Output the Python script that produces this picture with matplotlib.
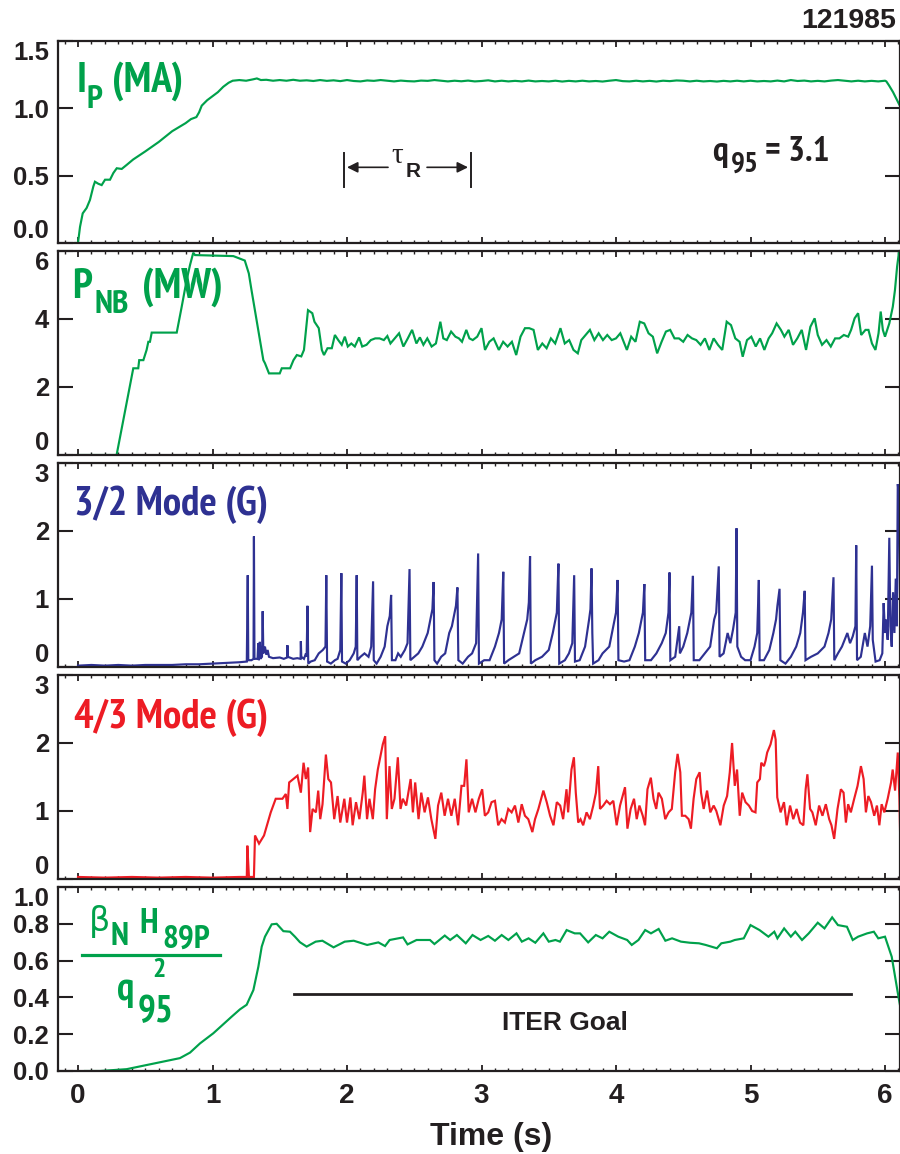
import matplotlib
matplotlib.use('Agg')
import matplotlib.pyplot as plt
from matplotlib import font_manager as fm
from matplotlib.ticker import MultipleLocator, FixedLocator
from matplotlib.lines import Line2D

# ---------------- data ----------------
shot = "121985"

ip_data = [(-0.02, 0.0), (0.0, 0.0), (0.015, 0.12), (0.035, 0.22), (0.064, 0.26), (0.089, 0.32),
           (0.114, 0.42), (0.126, 0.455), (0.151, 0.44), (0.176, 0.43), (0.201, 0.47), (0.238, 0.47),
           (0.263, 0.52), (0.288, 0.555), (0.325, 0.55), (0.362, 0.58), (0.41, 0.62), (0.5, 0.68),
           (0.6, 0.75), (0.7, 0.83), (0.8, 0.89), (0.84, 0.92), (0.88, 0.935), (0.9, 0.97),
           (0.92, 1.02), (0.96, 1.06), (1.0, 1.09), (1.04, 1.12), (1.08, 1.16), (1.12, 1.19),
           (1.15, 1.205), (1.2, 1.21), (1.25, 1.205), (1.3, 1.215), (1.33, 1.222), (1.36, 1.21),
           (1.4, 1.212), (1.45, 1.205), (1.5, 1.21), (1.55, 1.205), (1.6, 1.212), (1.65, 1.205),
           (1.7, 1.208), (1.75, 1.203), (1.8, 1.21), (1.85, 1.204), (1.9, 1.208), (1.95, 1.202),
           (2.0, 1.21), (2.05, 1.203), (2.1, 1.2), (2.15, 1.207), (2.2, 1.204), (2.25, 1.21),
           (2.3, 1.205), (2.35, 1.2), (2.4, 1.206), (2.45, 1.202), (2.5, 1.2), (2.55, 1.206),
           (2.6, 1.204), (2.65, 1.21), (2.7, 1.205), (2.75, 1.2), (2.8, 1.205), (2.85, 1.201),
           (2.9, 1.206), (2.95, 1.2), (3.0, 1.203), (3.05, 1.208), (3.1, 1.2), (3.15, 1.205),
           (3.2, 1.2), (3.25, 1.204), (3.3, 1.2), (3.35, 1.206), (3.4, 1.2), (3.45, 1.203),
           (3.5, 1.2), (3.55, 1.205), (3.6, 1.199), (3.65, 1.204), (3.7, 1.2), (3.75, 1.205),
           (3.8, 1.2), (3.85, 1.203), (3.9, 1.199), (3.95, 1.205), (4.0, 1.21), (4.05, 1.202),
           (4.1, 1.2), (4.15, 1.205), (4.2, 1.2), (4.25, 1.204), (4.3, 1.199), (4.35, 1.205),
           (4.4, 1.202), (4.45, 1.207), (4.5, 1.205), (4.55, 1.2), (4.6, 1.205), (4.65, 1.2),
           (4.7, 1.203), (4.75, 1.199), (4.8, 1.204), (4.85, 1.2), (4.9, 1.205), (4.95, 1.2),
           (5.0, 1.205), (5.05, 1.2), (5.1, 1.203), (5.15, 1.2), (5.2, 1.206), (5.25, 1.2),
           (5.3, 1.21), (5.35, 1.203), (5.4, 1.206), (5.45, 1.2), (5.5, 1.204), (5.55, 1.2),
           (5.6, 1.206), (5.65, 1.21), (5.7, 1.205), (5.75, 1.2), (5.8, 1.205), (5.85, 1.2),
           (5.9, 1.204), (5.95, 1.2), (6.0, 1.205), (6.01, 1.2), (6.03, 1.17), (6.06, 1.12),
           (6.09, 1.06), (6.11, 1.02), (6.13, 0.98)]

pnb_data = [(0.0, 0.0), (0.287, 0.0), (0.411, 2.55), (0.448, 2.55), (0.455, 2.79), (0.486, 2.79),
            (0.51, 3.09), (0.523, 3.33), (0.535, 3.33), (0.548, 3.6), (0.734, 3.6), (0.771, 4.36),
            (0.808, 5.15), (0.833, 5.59), (0.857, 5.95), (0.87, 5.88), (1.155, 5.85), (1.2, 5.78),
            (1.24, 5.72), (1.27, 5.34), (1.29, 4.85), (1.34, 3.68), (1.378, 2.79), (1.39, 2.7),
            (1.42, 2.4), (1.50, 2.4), (1.515, 2.55), (1.577, 2.55), (1.602, 2.79), (1.627, 2.94),
            (1.66, 2.9), (1.68, 3.09), (1.71, 4.26), (1.742, 4.17), (1.758, 3.92), (1.79, 3.73),
            (1.813, 3.09), (1.829, 2.94), (1.855, 3.14), (1.887, 3.14), (1.91, 3.53), (1.935, 3.38),
            (1.961, 3.24), (1.984, 3.48), (2.006, 3.19), (2.032, 3.28), (2.058, 3.19), (2.09, 3.46),
            (2.113, 3.19), (2.145, 3.24), (2.177, 3.38), (2.21, 3.43), (2.242, 3.43), (2.274, 3.38),
            (2.3, 3.5), (2.323, 3.28), (2.355, 3.43), (2.387, 3.58), (2.419, 3.19), (2.452, 3.43),
            (2.484, 3.68), (2.516, 3.28), (2.542, 3.46), (2.568, 3.24), (2.597, 3.43), (2.629, 3.19),
            (2.661, 3.28), (2.694, 3.92), (2.716, 3.43), (2.742, 3.38), (2.774, 3.63), (2.806, 3.48),
            (2.832, 3.43), (2.855, 3.33), (2.887, 3.68), (2.91, 3.43), (2.935, 3.38), (2.968, 3.48),
            (3.0, 3.73), (3.026, 3.09), (3.058, 3.33), (3.09, 3.43), (3.129, 3.09), (3.161, 3.33),
            (3.194, 3.19), (3.226, 3.33), (3.258, 2.94), (3.29, 3.48), (3.323, 3.73), (3.355, 3.73),
            (3.387, 3.68), (3.419, 3.09), (3.452, 3.28), (3.484, 3.14), (3.516, 3.43), (3.548, 3.28),
            (3.587, 3.73), (3.619, 3.28), (3.652, 3.38), (3.684, 3.09), (3.716, 2.99), (3.742, 3.38),
            (3.774, 3.53), (3.806, 3.68), (3.839, 3.38), (3.871, 3.58), (3.903, 3.38), (3.935, 3.53),
            (3.968, 3.38), (4.0, 3.43), (4.032, 3.58), (4.081, 3.09), (4.113, 3.48), (4.145, 3.33),
            (4.177, 3.92), (4.21, 3.87), (4.242, 3.58), (4.274, 3.48), (4.306, 2.99), (4.339, 3.33),
            (4.371, 3.63), (4.403, 3.68), (4.435, 3.43), (4.468, 3.43), (4.5, 3.33), (4.532, 3.53),
            (4.565, 3.43), (4.597, 3.38), (4.629, 3.24), (4.661, 3.43), (4.694, 3.09), (4.726, 3.43),
            (4.758, 3.24), (4.79, 3.09), (4.823, 3.92), (4.855, 3.82), (4.887, 3.43), (4.919, 3.33),
            (4.942, 2.89), (4.974, 3.38), (5.006, 3.48), (5.039, 3.19), (5.071, 3.43), (5.103, 3.09),
            (5.135, 3.43), (5.161, 3.58), (5.194, 3.87), (5.226, 3.68), (5.252, 3.48), (5.284, 3.68),
            (5.316, 3.24), (5.348, 3.43), (5.381, 3.68), (5.413, 3.09), (5.445, 3.77), (5.477, 4.02),
            (5.5, 3.53), (5.532, 3.24), (5.565, 3.38), (5.597, 3.19), (5.629, 3.43), (5.661, 3.43),
            (5.694, 3.53), (5.726, 3.48), (5.748, 3.68), (5.774, 4.02), (5.8, 4.17), (5.823, 3.53),
            (5.855, 3.68), (5.877, 3.68), (5.903, 3.28), (5.929, 3.09), (5.952, 3.58), (5.968, 4.22),
            (5.984, 3.68), (6.0, 3.48), (6.032, 3.87), (6.058, 4.36), (6.074, 4.85), (6.09, 5.54),
            (6.106, 6.03), (6.13, 6.3)]

mode32_data = [(0.0, 0.02), (0.1, 0.03), (0.2, 0.02), (0.3, 0.03), (0.4, 0.02), (0.5, 0.03),
               (0.6, 0.03), (0.7, 0.03), (0.8, 0.04), (0.9, 0.04), (1.0, 0.05), (1.1, 0.06),
               (1.2, 0.07), (1.255, 0.08), (1.262, 1.35), (1.266, 0.10), (1.29, 0.10), (1.305, 0.12),
               (1.308, 1.92), (1.312, 0.12), (1.335, 0.12), (1.34, 0.35), (1.345, 0.10), (1.352, 0.37),
               (1.356, 0.12), (1.368, 0.15), (1.373, 0.82), (1.378, 0.20), (1.39, 0.30), (1.40, 0.18),
               (1.41, 0.25), (1.42, 0.15), (1.45, 0.13), (1.50, 0.14), (1.53, 0.12), (1.555, 0.14),
               (1.557, 0.32), (1.56, 0.15), (1.60, 0.12), (1.63, 0.13), (1.655, 0.12), (1.657, 0.38),
               (1.66, 0.15), (1.68, 0.12), (1.695, 0.20), (1.70, 0.15), (1.706, 0.90), (1.712, 0.05),
               (1.73, 0.08), (1.76, 0.10), (1.79, 0.20), (1.82, 0.25), (1.84, 0.30), (1.846, 1.35),
               (1.852, 0.08), (1.88, 0.05), (1.91, 0.10), (1.93, 0.12), (1.95, 0.25), (1.958, 1.38),
               (1.963, 0.08), (1.99, 0.05), (2.02, 0.10), (2.05, 0.20), (2.065, 0.30), (2.072, 1.35),
               (2.077, 0.10), (2.10, 0.15), (2.13, 0.20), (2.16, 0.15), (2.18, 0.30), (2.194, 1.26),
               (2.199, 0.10), (2.22, 0.05), (2.25, 0.15), (2.28, 0.30), (2.30, 0.60), (2.318, 0.75),
               (2.328, 1.06), (2.334, 0.10), (2.36, 0.10), (2.38, 0.20), (2.40, 0.15), (2.43, 0.25),
               (2.45, 0.35), (2.465, 1.44), (2.471, 0.10), (2.50, 0.15), (2.53, 0.20), (2.56, 0.30),
               (2.60, 0.50), (2.62, 0.70), (2.635, 0.85), (2.644, 1.25), (2.65, 0.10), (2.67, 0.05),
               (2.70, 0.15), (2.73, 0.20), (2.76, 0.50), (2.78, 0.60), (2.80, 0.80), (2.81, 0.90),
               (2.821, 1.17), (2.828, 0.10), (2.86, 0.05), (2.90, 0.15), (2.93, 0.20), (2.96, 0.35),
               (2.975, 1.67), (2.981, 0.05), (3.02, 0.10), (3.06, 0.10), (3.10, 0.30), (3.13, 0.50),
               (3.15, 0.70), (3.162, 1.40), (3.168, 0.05), (3.20, 0.10), (3.24, 0.15), (3.28, 0.20),
               (3.31, 0.45), (3.34, 0.70), (3.352, 0.95), (3.361, 1.63), (3.367, 0.05), (3.40, 0.10),
               (3.45, 0.15), (3.50, 0.25), (3.53, 0.50), (3.56, 0.80), (3.572, 1.52), (3.578, 0.05),
               (3.62, 0.10), (3.65, 0.20), (3.675, 0.35), (3.689, 1.35), (3.695, 0.08), (3.73, 0.10),
               (3.77, 0.30), (3.80, 0.70), (3.81, 0.85), (3.818, 1.45), (3.824, 0.50), (3.83, 0.05),
               (3.87, 0.10), (3.90, 0.20), (3.95, 0.30), (3.98, 0.60), (4.00, 0.80), (4.012, 1.28),
               (4.018, 0.10), (4.06, 0.08), (4.10, 0.10), (4.14, 0.30), (4.17, 0.50), (4.20, 0.80),
               (4.211, 1.22), (4.217, 0.10), (4.26, 0.10), (4.30, 0.20), (4.34, 0.35), (4.37, 0.50),
               (4.39, 0.80), (4.398, 1.39), (4.404, 0.10), (4.44, 0.15), (4.47, 0.60), (4.475, 0.20),
               (4.50, 0.30), (4.53, 0.50), (4.56, 0.80), (4.572, 1.34), (4.578, 0.10), (4.62, 0.10),
               (4.66, 0.20), (4.70, 0.30), (4.73, 0.70), (4.745, 0.80), (4.764, 1.48), (4.77, 0.15),
               (4.80, 0.20), (4.83, 0.50), (4.85, 0.35), (4.87, 0.55), (4.89, 0.80), (4.896, 2.04),
               (4.902, 0.30), (4.93, 0.15), (4.96, 0.10), (5.00, 0.10), (5.03, 0.30), (5.05, 0.50),
               (5.062, 1.28), (5.068, 0.10), (5.10, 0.10), (5.14, 0.25), (5.17, 0.50), (5.19, 0.70),
               (5.20, 0.90), (5.216, 1.15), (5.222, 0.10), (5.26, 0.05), (5.30, 0.15), (5.34, 0.30),
               (5.37, 0.50), (5.39, 0.80), (5.403, 1.12), (5.409, 0.10), (5.45, 0.15), (5.50, 0.20),
               (5.55, 0.30), (5.58, 0.50), (5.60, 0.70), (5.617, 1.32), (5.623, 0.10), (5.65, 0.20),
               (5.68, 0.30), (5.72, 0.50), (5.74, 0.35), (5.76, 0.45), (5.78, 0.60), (5.786, 1.79),
               (5.792, 0.10), (5.82, 0.15), (5.85, 0.50), (5.87, 0.30), (5.89, 0.60), (5.903, 1.49),
               (5.909, 0.40), (5.93, 0.08), (5.96, 0.10), (5.98, 0.20), (5.99, 0.94), (6.00, 0.50),
               (6.01, 0.70), (6.02, 0.40), (6.032, 1.90), (6.04, 0.60), (6.05, 0.30), (6.06, 1.10),
               (6.07, 0.50), (6.08, 1.30), (6.088, 0.60), (6.095, 2.69), (6.105, 2.50), (6.115, 0.30)]

mode43_data = [(0.0, 0.03), (0.2, 0.02), (0.4, 0.03), (0.6, 0.02), (0.8, 0.03), (1.0, 0.02),
               (1.2, 0.03), (1.255, 0.03), (1.259, 0.49), (1.271, 0.03), (1.308, 0.03), (1.316, 0.64),
               (1.346, 0.52), (1.383, 0.64), (1.433, 0.98), (1.47, 1.18), (1.52, 1.18), (1.545, 1.25),
               (1.557, 1.03), (1.57, 1.42), (1.632, 1.52), (1.657, 1.27), (1.677, 1.71), (1.694, 1.47),
               (1.711, 1.64), (1.726, 0.69), (1.744, 1.03), (1.769, 0.98), (1.786, 1.30), (1.801, 0.88),
               (1.818, 1.10), (1.843, 1.83), (1.861, 1.47), (1.881, 1.42), (1.905, 0.88), (1.93, 1.22),
               (1.95, 0.83), (1.98, 1.18), (2.0, 0.83), (2.025, 1.20), (2.042, 0.79), (2.067, 1.13),
               (2.092, 0.88), (2.117, 1.27), (2.129, 1.52), (2.149, 0.88), (2.167, 1.18), (2.192, 0.88),
               (2.209, 1.32), (2.229, 1.61), (2.249, 1.81), (2.266, 1.98), (2.284, 2.10), (2.296, 0.88),
               (2.316, 1.66), (2.333, 1.03), (2.353, 1.18), (2.378, 1.79), (2.398, 1.03), (2.415, 1.18),
               (2.44, 1.08), (2.473, 1.47), (2.49, 0.98), (2.507, 1.42), (2.532, 0.88), (2.552, 1.27),
               (2.577, 0.98), (2.602, 1.20), (2.627, 0.88), (2.657, 0.59), (2.677, 1.08), (2.701, 1.27),
               (2.726, 0.93), (2.751, 1.18), (2.776, 0.93), (2.801, 1.18), (2.826, 0.79), (2.851, 1.37),
               (2.871, 1.37), (2.888, 1.76), (2.905, 0.98), (2.93, 1.18), (2.955, 0.98), (2.98, 1.18),
               (3.005, 1.32), (3.025, 0.93), (3.05, 0.98), (3.075, 1.13), (3.10, 1.15), (3.124, 0.79),
               (3.149, 0.88), (3.174, 0.83), (3.199, 1.03), (3.224, 0.98), (3.249, 1.08), (3.274, 0.83),
               (3.299, 1.10), (3.323, 0.93), (3.348, 0.88), (3.378, 0.69), (3.398, 0.88), (3.423, 1.03),
               (3.46, 1.30), (3.485, 1.13), (3.51, 0.93), (3.535, 0.79), (3.56, 1.13), (3.585, 1.08),
               (3.607, 0.88), (3.632, 1.32), (3.644, 0.98), (3.669, 1.61), (3.687, 1.79), (3.701, 1.27),
               (3.719, 0.83), (3.736, 0.88), (3.756, 0.79), (3.781, 0.98), (3.806, 0.88), (3.831, 1.08),
               (3.851, 1.27), (3.868, 1.66), (3.881, 1.03), (3.905, 1.08), (3.93, 1.15), (3.955, 1.10),
               (3.98, 1.15), (4.005, 0.79), (4.03, 1.08), (4.067, 1.35), (4.085, 0.74), (4.109, 1.03),
               (4.134, 1.18), (4.154, 0.88), (4.174, 1.08), (4.199, 0.93), (4.216, 0.79), (4.234, 1.32),
               (4.259, 1.49), (4.279, 1.18), (4.299, 1.03), (4.316, 1.27), (4.341, 1.18), (4.366, 0.88),
               (4.391, 0.98), (4.415, 1.03), (4.44, 1.57), (4.458, 1.84), (4.478, 1.57), (4.49, 0.93),
               (4.515, 0.93), (4.54, 0.88), (4.557, 0.74), (4.577, 1.18), (4.597, 1.47), (4.622, 1.57),
               (4.632, 1.27), (4.652, 1.03), (4.677, 1.30), (4.701, 0.98), (4.726, 1.08), (4.746, 1.00),
               (4.776, 0.79), (4.801, 1.08), (4.826, 1.22), (4.846, 1.57), (4.863, 2.00), (4.883, 1.37),
               (4.90, 1.61), (4.92, 0.93), (4.938, 1.27), (4.963, 1.13), (4.988, 1.08), (5.012, 1.00),
               (5.037, 0.98), (5.05, 1.42), (5.07, 1.47), (5.08, 1.71), (5.10, 1.66), (5.112, 1.74),
               (5.124, 1.86), (5.149, 1.98), (5.174, 2.19), (5.187, 2.05), (5.199, 1.20), (5.224, 0.98),
               (5.249, 1.13), (5.269, 0.79), (5.294, 1.08), (5.318, 0.88), (5.343, 1.03), (5.368, 0.83),
               (5.393, 0.79), (5.41, 1.32), (5.423, 1.54), (5.443, 1.03), (5.46, 0.98), (5.485, 0.79),
               (5.51, 1.08), (5.535, 0.93), (5.56, 1.10), (5.585, 0.88), (5.602, 0.79), (5.622, 0.59),
               (5.647, 1.03), (5.672, 1.32), (5.692, 1.27), (5.709, 0.83), (5.726, 1.10), (5.746, 0.98),
               (5.771, 1.18), (5.796, 1.37), (5.821, 1.66), (5.841, 1.47), (5.858, 0.98), (5.876, 1.22),
               (5.896, 1.13), (5.92, 0.93), (5.94, 1.08), (5.958, 0.79), (5.975, 1.10), (5.995, 0.98),
               (6.02, 1.18), (6.045, 1.42), (6.057, 1.61), (6.075, 1.30), (6.095, 1.86), (6.107, 1.18),
               (6.119, 0.03)]

beta_data = [(0.052, 0.0), (0.164, 0.0), (0.362, 0.01), (0.56, 0.04), (0.758, 0.07), (0.833, 0.10),
             (0.907, 0.15), (1.006, 0.205), (1.142, 0.295), (1.204, 0.335), (1.254, 0.36),
             (1.304, 0.44), (1.341, 0.567), (1.366, 0.676), (1.39, 0.73), (1.44, 0.797),
             (1.477, 0.80), (1.527, 0.76), (1.576, 0.757), (1.613, 0.73), (1.65, 0.70),
             (1.70, 0.676), (1.767, 0.703), (1.817, 0.708), (1.90, 0.672), (1.983, 0.703),
             (2.05, 0.708), (2.15, 0.685), (2.233, 0.699), (2.283, 0.679), (2.317, 0.712),
             (2.417, 0.726), (2.45, 0.688), (2.517, 0.712), (2.617, 0.712), (2.65, 0.69),
             (2.727, 0.736), (2.767, 0.712), (2.817, 0.739), (2.883, 0.694), (2.933, 0.739),
             (2.993, 0.712), (3.05, 0.734), (3.10, 0.708), (3.15, 0.739), (3.20, 0.712),
             (3.26, 0.748), (3.30, 0.703), (3.35, 0.721), (3.40, 0.697), (3.46, 0.748),
             (3.50, 0.703), (3.55, 0.712), (3.583, 0.703), (3.633, 0.766), (3.693, 0.748),
             (3.733, 0.748), (3.793, 0.699), (3.85, 0.739), (3.90, 0.721), (3.95, 0.757),
             (4.017, 0.73), (4.083, 0.712), (4.117, 0.685), (4.167, 0.712), (4.217, 0.766),
             (4.26, 0.748), (4.317, 0.772), (4.367, 0.708), (4.417, 0.721), (4.483, 0.703),
             (4.55, 0.697), (4.617, 0.694), (4.667, 0.685), (4.75, 0.667), (4.783, 0.694),
             (4.85, 0.703), (4.883, 0.712), (4.95, 0.721), (5.0, 0.793), (5.067, 0.766),
             (5.133, 0.73), (5.177, 0.757), (5.20, 0.721), (5.25, 0.775), (5.30, 0.73),
             (5.333, 0.757), (5.383, 0.712), (5.433, 0.748), (5.50, 0.806), (5.55, 0.775),
             (5.607, 0.835), (5.65, 0.793), (5.717, 0.784), (5.76, 0.712), (5.80, 0.73),
             (5.867, 0.748), (5.917, 0.757), (5.95, 0.721), (6.0, 0.73), (6.05, 0.621),
             (6.10, 0.404), (6.127, 0.295)]

iter_goal_value = 0.42
iter_goal_span = (1.607, 5.75)
tauR_span = (1.98, 2.92)

yticks_list = [[0.0, 0.5, 1.0, 1.5], [0, 2, 4, 6], [0, 1, 2, 3], [0, 1, 2, 3],
               [0.0, 0.2, 0.4, 0.6, 0.8, 1.0]]
ytick_labels = [['0.0', '0.5', '1.0', '1.5'], ['0', '2', '4', '6'], ['0', '1', '2', '3'],
                ['0', '1', '2', '3'], ['0.0', '0.2', '0.4', '0.6', '0.8', '1.0']]
ylims = [(0, 1.5), (0, 6), (0, 3), (0, 3), (0, 1.0)]
xticks = [0, 1, 2, 3, 4, 5, 6]

# ---------------- style ----------------
GREEN = '#00a14b'
BLUE = '#2e3192'
RED = '#ed1c24'
DARK = '#231f20'

_bold_names = set()
_all_names = set()
for f in fm.fontManager.ttflist:
    _all_names.add(f.name)
    w = f.weight
    if (isinstance(w, int) and w >= 700) or (isinstance(w, str) and 'bold' in w):
        _bold_names.add(f.name)


def pick(prefs, fallback):
    for p in prefs:
        if p in _bold_names:
            return p
    return fallback


SANS = pick(['Liberation Sans', 'Arimo'], 'DejaVu Sans')
NARROW = pick(['Liberation Sans Narrow', 'Nimbus Sans Narrow', 'Arial Narrow', 'PT Sans Narrow',
               'Roboto Condensed', 'IBM Plex Sans Condensed', 'Fira Sans Condensed',
               'Asap Condensed', 'Barlow Semi Condensed', 'Barlow Condensed'], SANS)
SERIF = 'Liberation Serif' if 'Liberation Serif' in _all_names else 'DejaVu Serif'
plt.rcParams['font.family'] = [SANS, 'DejaVu Sans']
plt.rcParams['font.weight'] = 'bold'

W, H = 900, 1154
fig = plt.figure(figsize=(W / 100, H / 100), dpi=100)

panels = [(41, 243), (251, 455), (463, 667), (675, 879), (887, 1071)]
L, R = 58, 900
x0px, pxs = 78.0, 134.5
xlim = ((L - x0px) / pxs, (R - x0px) / pxs)

series = [(ip_data, GREEN), (pnb_data, GREEN), (mode32_data, BLUE), (mode43_data, RED), (beta_data, GREEN)]
axes = []
for i, (top, bot) in enumerate(panels):
    ax = fig.add_axes([L / W, 1 - bot / H, (R - L) / W, (bot - top) / H])
    data, col = series[i]
    t, v = zip(*data)
    ax.plot(t, v, color=col, lw=1.55, solid_joinstyle='miter', clip_on=True)
    ax.set_xlim(*xlim)
    ax.set_ylim(*ylims[i])
    ax.xaxis.set_major_locator(FixedLocator(xticks))
    ax.xaxis.set_minor_locator(MultipleLocator(0.1))
    ax.set_yticks(yticks_list[i])
    ax.set_yticklabels(ytick_labels[i])
    for s in ax.spines.values():
        s.set_linewidth(1.6)
        s.set_color(DARK)
    ax.tick_params(axis='x', which='major', direction='in', length=4, width=1.3,
                   top=True, bottom=True, color=DARK)
    ax.tick_params(axis='x', which='minor', direction='in', length=2.2, width=1.0,
                   top=True, bottom=True, color=DARK)
    ax.tick_params(axis='y', which='major', direction='in', length=11, width=1.5,
                   left=True, right=True, color=DARK, labelsize=18.5, pad=6.5,
                   labelcolor=DARK)
    for lab in ax.get_yticklabels():
        lab.set_fontweight('bold')
        lab.set_family(SANS)
    labs = ax.get_yticklabels()
    labs[-1].set_va('top')
    if i < 4:
        labs[0].set_va('bottom')
        ax.tick_params(axis='x', labelbottom=False)
    else:
        ax.tick_params(axis='x', labelsize=20, pad=8.5, labelcolor=DARK)
        for lab in ax.get_xticklabels():
            lab.set_fontweight('bold')
            lab.set_family(SANS)
    axes.append(ax)

ax1, ax2, ax3, ax4, ax5 = axes


def ftext(x, y, s, size, color=DARK, family=None, weight='bold', ha='left', va='baseline'):
    fig.text(x / W, 1 - y / H, s, fontsize=size, color=color, family=[family or SANS, 'DejaVu Sans'],
             fontweight=weight, ha=ha, va=va)


# shot number
ftext(896, 28, shot, 20.5, ha='right')

# panel labels
ftext(77, 92, 'I', 30, GREEN, NARROW)
ftext(86, 108, 'P', 24, GREEN, NARROW)
ftext(112, 92, '(MA)', 30, GREEN, NARROW)

ftext(72, 298, 'P', 30, GREEN, NARROW)
ftext(94, 313, 'NB', 24, GREEN, NARROW)
ftext(142, 298, '(MW)', 30, GREEN, NARROW)

ftext(74, 515, '3/2 Mode (G)', 29.5, BLUE, NARROW)
ftext(74, 728, '4/3 Mode (G)', 29.5, RED, NARROW)

# q95 annotation
ftext(712, 161, 'q', 25.5, DARK, NARROW)
ftext(731, 172, '95', 21, DARK, NARROW)
ftext(765, 161, '= 3.1', 25.5, DARK, NARROW)

# tau_R marker
for tb in tauR_span:
    ax1.plot([tb, tb], [0.414, 0.67], color=DARK, lw=1.4)
ymid = 0.562
ax1.annotate('', xy=(tauR_span[0] + 0.02, ymid), xytext=(2.305, ymid),
             arrowprops=dict(arrowstyle='-|>', color=DARK, lw=1.2, mutation_scale=16,
                             shrinkA=0, shrinkB=0))
ax1.annotate('', xy=(tauR_span[1] - 0.02, ymid), xytext=(2.595, ymid),
             arrowprops=dict(arrowstyle='-|>', color=DARK, lw=1.2, mutation_scale=16,
                             shrinkA=0, shrinkB=0))
ftext(397, 163, '\u03c4', 21, DARK, SERIF, weight='normal', ha='center')
ftext(406, 177, 'R', 15, DARK, SANS)

# ITER goal
ax5.plot(list(iter_goal_span), [iter_goal_value, iter_goal_value], color=DARK, lw=2.0)
ftext(565, 1030, 'ITER Goal', 19, DARK, SANS, ha='center')

# beta_N H89P / q95^2
ftext(89, 931, '\u03b2', 24, GREEN, 'DejaVu Sans', weight='normal')
ftext(110, 945, 'N', 24, GREEN, NARROW)
ftext(139, 933, 'H', 25, GREEN, NARROW)
ftext(162, 948, '89P', 24, GREEN, NARROW)
fig.add_artist(Line2D([82 / W, 220 / W], [1 - 955 / H, 1 - 955 / H], color=GREEN, lw=2.3))
ftext(117, 1000, 'q', 28, GREEN, NARROW)
ftext(138, 1022, '95', 27, GREEN, NARROW)
ftext(152, 977, '2', 20, GREEN, NARROW)

# x label
ftext(491, 1145, 'Time (s)', 23, DARK, SANS, ha='center')

fig.savefig('out.png', dpi=100)
